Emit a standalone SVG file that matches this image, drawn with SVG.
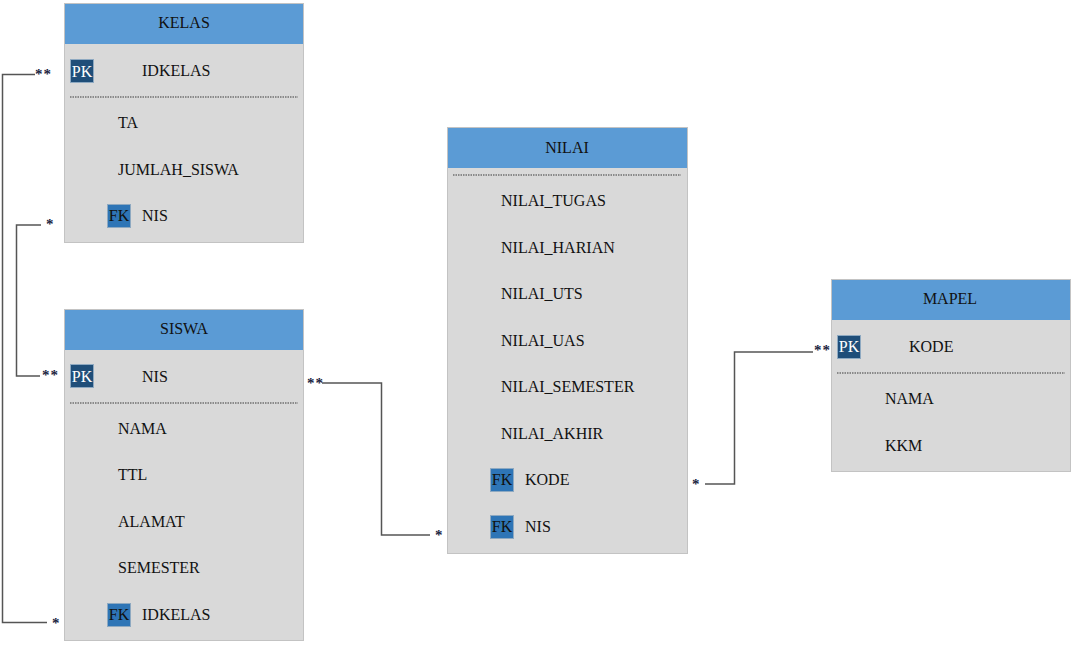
<svg xmlns="http://www.w3.org/2000/svg" width="1077" height="649" viewBox="0 0 1077 649">
<style>
.body{fill:#D9D9D9;stroke:#C3C3C3;stroke-width:1}
.head{fill:#5B9BD5}
.t{font-family:"Liberation Serif","Times New Roman",serif;font-size:16px;fill:#111}
.h{text-anchor:middle}
.pk{fill:#1F4E79;stroke:#8EA9C1;stroke-width:1}
.fk{fill:#2E75B6;stroke:#8EA9C1;stroke-width:1}
.pkt{font-family:"Liberation Serif","Times New Roman",serif;font-size:16px;fill:#fff;text-anchor:middle}
.fkt{font-family:"Liberation Serif","Times New Roman",serif;font-size:16px;fill:#111;text-anchor:middle}
.dot{stroke:#707070;stroke-width:1.5;stroke-dasharray:1.5 1}
.c{fill:none;stroke:#555;stroke-width:1.5}
.m{font-family:"Liberation Serif","Times New Roman",serif;font-size:15px;fill:#1A2340;font-weight:bold;letter-spacing:1px}
</style>
<rect width="1077" height="649" fill="#fff"/>
<g id="connectors">
<polyline class="c" points="35,74.5 2.5,74.5 2.5,622.5 47,622.5"/>
<polyline class="c" points="41,225 16.5,225 16.5,376 40,376"/>
<polyline class="c" points="322,383 381.5,383 381.5,535 430,535"/>
<polyline class="c" points="705,484 734.5,484 734.5,352 813,352"/>
<text class="m" x="35" y="79">**</text>
<text class="m" x="46" y="229">*</text>
<text class="m" x="42" y="380">**</text>
<text class="m" x="52" y="628">*</text>
<text class="m" x="307" y="388">**</text>
<text class="m" x="435" y="540">*</text>
<text class="m" x="692" y="489">*</text>
<text class="m" x="814" y="355">**</text>
</g>
<g id="kelas">
<rect class="body" x="64.5" y="3.5" width="239" height="239"/>
<rect class="head" x="65" y="4" width="238" height="40"/>
<text class="t h" x="184" y="28">KELAS</text>
<rect class="pk" x="70.5" y="59.5" width="23" height="23"/>
<text class="pkt" x="82" y="77">PK</text>
<text class="t" x="142" y="76">IDKELAS</text>
<line class="dot" x1="70" y1="97" x2="298" y2="97"/>
<text class="t" x="118" y="128">TA</text>
<text class="t" x="118" y="175">JUMLAH_SISWA</text>
<rect class="fk" x="107.5" y="204.5" width="23" height="23"/>
<text class="fkt" x="119" y="221">FK</text>
<text class="t" x="142" y="221">NIS</text>
</g>
<g id="siswa">
<rect class="body" x="64.5" y="309.5" width="239" height="331"/>
<rect class="head" x="65" y="310" width="238" height="40"/>
<text class="t h" x="184" y="334">SISWA</text>
<rect class="pk" x="70.5" y="364.5" width="23" height="23"/>
<text class="pkt" x="82" y="382">PK</text>
<text class="t" x="142" y="382">NIS</text>
<line class="dot" x1="70" y1="403" x2="298" y2="403"/>
<text class="t" x="118" y="434">NAMA</text>
<text class="t" x="118" y="480">TTL</text>
<text class="t" x="118" y="527">ALAMAT</text>
<text class="t" x="118" y="573">SEMESTER</text>
<rect class="fk" x="107.5" y="603.5" width="23" height="23"/>
<text class="fkt" x="119" y="620">FK</text>
<text class="t" x="142" y="620">IDKELAS</text>
</g>
<g id="nilai">
<rect class="body" x="447.5" y="127.5" width="240" height="426"/>
<rect class="head" x="448" y="128" width="239" height="40"/>
<text class="t h" x="567" y="153">NILAI</text>
<line class="dot" x1="453" y1="175" x2="681" y2="175"/>
<text class="t" x="501" y="206">NILAI_TUGAS</text>
<text class="t" x="501" y="253">NILAI_HARIAN</text>
<text class="t" x="501" y="299">NILAI_UTS</text>
<text class="t" x="501" y="346">NILAI_UAS</text>
<text class="t" x="501" y="392">NILAI_SEMESTER</text>
<text class="t" x="501" y="439">NILAI_AKHIR</text>
<rect class="fk" x="490.5" y="468.5" width="23" height="23"/>
<text class="fkt" x="502" y="485">FK</text>
<text class="t" x="525" y="485">KODE</text>
<rect class="fk" x="490.5" y="515.5" width="23" height="23"/>
<text class="fkt" x="502" y="532">FK</text>
<text class="t" x="525" y="532">NIS</text>
</g>
<g id="mapel">
<rect class="body" x="831.5" y="279.5" width="239" height="192"/>
<rect class="head" x="832" y="280" width="238" height="40"/>
<text class="t h" x="950" y="304">MAPEL</text>
<rect class="pk" x="837.5" y="335.5" width="23" height="23"/>
<text class="pkt" x="849" y="352">PK</text>
<text class="t" x="909" y="352">KODE</text>
<line class="dot" x1="837" y1="373" x2="1065" y2="373"/>
<text class="t" x="885" y="404">NAMA</text>
<text class="t" x="885" y="451">KKM</text>
</g>
</svg>
